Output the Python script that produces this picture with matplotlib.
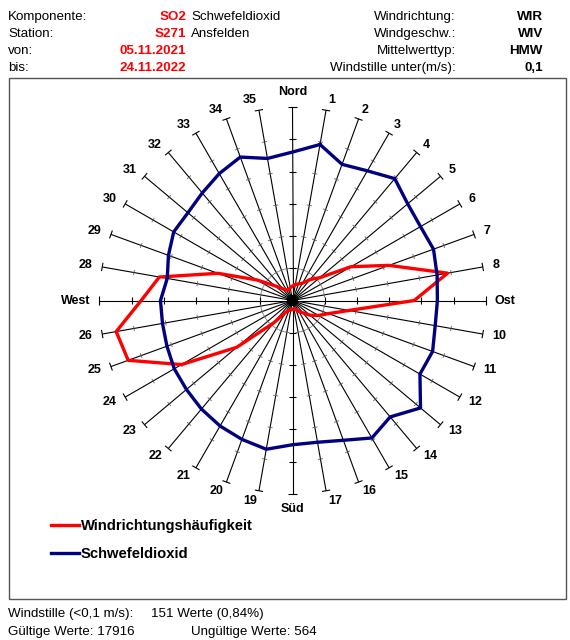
import numpy as np
import matplotlib
matplotlib.use('Agg')
from matplotlib import pyplot as plt
from matplotlib.patches import Rectangle, Circle
from matplotlib.lines import Line2D
from matplotlib.collections import LineCollection

plt.rcParams['font.family'] = ['Liberation Sans', 'DejaVu Sans']

# sectors of 10 degrees, 1 = 10 deg ... 36 = Nord
sectors = np.arange(1, 37)
# radii in ring units (6 rings on each spoke)
freq = [0.5, 0.55, 0.62, 0.85, 1.1, 2.1, 3.19, 4.89, 3.78, 1.78, 1.19, 0.93,
        0.71, 0.5, 0.39, 0.3, 0.25, 0.28, 0.3, 0.33, 0.42, 0.9, 2.26, 3.98,
        5.43, 5.56, 4.7, 4.2, 2.47, 1.28, 0.71, 0.48, 0.38, 0.35, 0.4, 0.45]
so2 = [4.92, 4.5, 4.65, 4.94, 4.67, 4.59, 4.66, 4.56, 4.5, 4.5, 4.63, 4.57,
       5.19, 4.72, 4.93, 4.62, 4.47, 4.48, 4.69, 4.59, 4.5, 4.4, 4.3, 4.24,
       4.15, 4.1, 4.1, 3.95, 4.1, 4.26, 4.24, 4.36, 4.55, 4.74, 4.48, 4.61]
cardinals = {36: 'Nord', 9: 'Ost', 18: 'Süd', 27: 'West'}
n_rings = 6

header_left = [('Komponente:', 'SO2', 'Schwefeldioxid'),
               ('Station:', 'S271', 'Ansfelden'),
               ('von:', '05.11.2021', ''),
               ('bis:', '24.11.2022', '')]
header_right = [('Windrichtung:', 'WIR'),
                ('Windgeschw.:', 'WIV'),
                ('Mittelwerttyp:', 'HMW'),
                ('Windstille unter(m/s):', '0,1')]

W, H = 570, 640
fig = plt.figure(figsize=(W / 100, H / 100), dpi=100)

def ftext(x, y, s, **kw):
    # y = baseline in pixels from the top
    kw.setdefault('fontsize', 9.6)
    fig.text(x / W, 1 - y / H, s, va='baseline', **kw)

# header
rows = [20, 37, 54, 71]
for y, (lab, val, extra) in zip(rows, header_left):
    ftext(8, y, lab)
    ftext(186, y, val, ha='right', color='red', fontweight='bold')
    if extra:
        ftext(191, y, extra)
for y, (lab, val) in zip(rows, header_right):
    ftext(456, y, lab, ha='right')
    ftext(543, y, val, ha='right', fontweight='bold')

# frame
fig.add_artist(Rectangle((9 / W, 1 - 599 / H), 557 / W, 521 / H, transform=fig.transFigure,
                         fill=False, edgecolor='#555555', lw=1.0))

# rose axes
s = 32.2
cx, cy = 292.5, 300.5
ax = fig.add_axes([(cx - 8.5 * s) / W, (H - cy - 6.9 * s) / H, 17 * s / W, 13.8 * s / H])
ax.set_xlim(-8.5, 8.5)
ax.set_ylim(-6.9, 6.9)
ax.set_aspect('equal')
ax.axis('off')

theta = np.deg2rad(sectors * 10)
sx, sy = np.sin(theta), np.cos(theta)

spokes = [[(0, 0), (n_rings * a, n_rings * b)] for a, b in zip(sx, sy)]
ax.add_collection(LineCollection(spokes, colors='black', linewidths=0.8, zorder=1))
ax.add_patch(Circle((0, 0), 0.15, color='black', zorder=1))

small, big = [], []
for sec, a, b in zip(sectors, sx, sy):
    px, py = b, -a
    for k in range(1, n_rings + 1):
        if k == n_rings:
            h = 0.13
            big.append([(k * a - h * px, k * b - h * py), (k * a + h * px, k * b + h * py)])
        elif sec in cardinals:
            h = 0.11
            big.append([(k * a - h * px, k * b - h * py), (k * a + h * px, k * b + h * py)])
        else:
            h = 0.08
            small.append([(k * a - h * px, k * b - h * py), (k * a + h * px, k * b + h * py)])
ax.add_collection(LineCollection(small, colors='#606060', linewidths=0.6, zorder=1))
ax.add_collection(LineCollection(big, colors='black', linewidths=0.8, zorder=1))

for sec, a, b in zip(sectors, sx, sy):
    if sec in cardinals:
        r = 6.28
        if sec == 36:
            ax.text(0, r, cardinals[sec], ha='center', va='bottom', fontsize=9, fontweight='bold')
        elif sec == 9:
            ax.text(r, 0, cardinals[sec], ha='left', va='center', fontsize=9, fontweight='bold')
        elif sec == 18:
            ax.text(0, -r, cardinals[sec], ha='center', va='top', fontsize=9, fontweight='bold')
        else:
            ax.text(-r, 0, cardinals[sec], ha='right', va='center', fontsize=9, fontweight='bold')
    else:
        r = 6.31
        ax.text(r * a, r * b, str(sec), ha='left' if sec < 18 else 'right', va='center',
                fontsize=9, fontweight='bold')

fr = np.append(freq, freq[0])
so = np.append(so2, so2[0])
tx, ty = np.append(sx, sx[0]), np.append(sy, sy[0])
ax.plot(fr * tx, fr * ty, color='#ff0000', lw=2.4, zorder=3)
ax.plot(so * tx, so * ty, color='#000080', lw=2.4, zorder=4)

# legend
for y, col, lab in [(525, '#ff0000', 'Windrichtungshäufigkeit'), (553, '#000080', 'Schwefeldioxid')]:
    fig.add_artist(Line2D([51 / W, 79 / W], [1 - y / H] * 2, color=col, lw=2.4, transform=fig.transFigure))
    ftext(81, y + 5, lab, fontsize=10.6, fontweight='bold')

# footer
ftext(8, 617, 'Windstille (<0,1 m/s):')
ftext(151, 617, '151 Werte (0,84%)')
ftext(8, 635, 'Gültige Werte: 17916')
ftext(191, 635, 'Ungültige Werte: 564')

fig.savefig('out.png', dpi=100)
